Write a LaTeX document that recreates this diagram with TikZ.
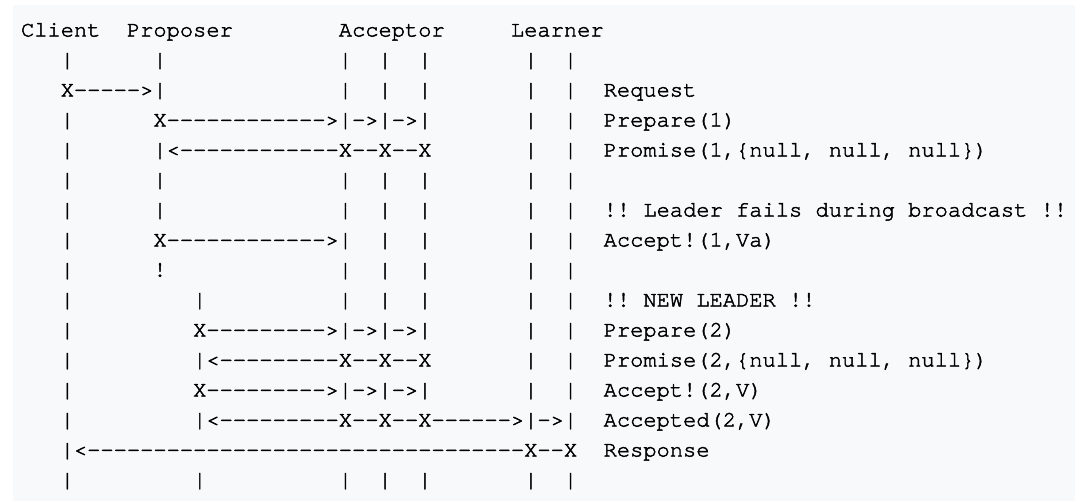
\documentclass[tikz,border=0pt]{standalone}
\usepackage{fontspec}
\setmonofont{texgyrecursor-regular.otf}[FakeBold=2]
\definecolor{pregray}{HTML}{F8F9FA}
\definecolor{pretext}{HTML}{000000}
\tikzset{
  asciiline/.style={anchor=base west, inner sep=0pt, outer sep=0pt,
    font=\ttfamily\fontsize{22.07}{30}\selectfont\frenchspacing, text=pretext}
}
\begin{document}
\begin{tikzpicture}[x=1pt,y=-1pt]
\useasboundingbox (0,0) rectangle (1075,501);
\fill[pregray] (13,5) rectangle (1075,501);
\node[asciiline] (l0)  at (21,36.5)  {Client~~Proposer~~~~~~~~Acceptor~~~~~Learner};
\node[asciiline] (l1)  at (21,66.5)  {~~~|~~~~~~|~~~~~~~~~~~~~|~~|~~|~~~~~~~|~~|};
\node[asciiline] (l2)  at (21,96.5)  {~~~X----->|~~~~~~~~~~~~~|~~|~~|~~~~~~~|~~|~~Request};
\node[asciiline] (l3)  at (21,126.5) {~~~|~~~~~~X------------>|->|->|~~~~~~~|~~|~~Prepare(1)};
\node[asciiline] (l4)  at (21,156.5) {~~~|~~~~~~|<------------X--X--X~~~~~~~|~~|~~Promise(1,\{null,~null,~null\})};
\node[asciiline] (l5)  at (21,186.5) {~~~|~~~~~~|~~~~~~~~~~~~~|~~|~~|~~~~~~~|~~|};
\node[asciiline] (l6)  at (21,216.5) {~~~|~~~~~~|~~~~~~~~~~~~~|~~|~~|~~~~~~~|~~|~~!!~Leader~fails~during~broadcast~!!};
\node[asciiline] (l7)  at (21,246.5) {~~~|~~~~~~X------------>|~~|~~|~~~~~~~|~~|~~Accept!(1,Va)};
\node[asciiline] (l8)  at (21,276.5) {~~~|~~~~~~!~~~~~~~~~~~~~|~~|~~|~~~~~~~|~~|};
\node[asciiline] (l9)  at (21,306.5) {~~~|~~~~~~~~~|~~~~~~~~~~|~~|~~|~~~~~~~|~~|~~!!~NEW~LEADER~!!};
\node[asciiline] (l10) at (21,336.5) {~~~|~~~~~~~~~X--------->|->|->|~~~~~~~|~~|~~Prepare(2)};
\node[asciiline] (l11) at (21,366.5) {~~~|~~~~~~~~~|<---------X--X--X~~~~~~~|~~|~~Promise(2,\{null,~null,~null\})};
\node[asciiline] (l12) at (21,396.5) {~~~|~~~~~~~~~X--------->|->|->|~~~~~~~|~~|~~Accept!(2,V)};
\node[asciiline] (l13) at (21,426.5) {~~~|~~~~~~~~~|<---------X--X--X------>|->|~~Accepted(2,V)};
\node[asciiline] (l14) at (21,456.5) {~~~|<---------------------------------X--X~~Response};
\node[asciiline] (l15) at (21,486.5) {~~~|~~~~~~~~~|~~~~~~~~~~|~~|~~|~~~~~~~|~~|};
\end{tikzpicture}
\end{document}
